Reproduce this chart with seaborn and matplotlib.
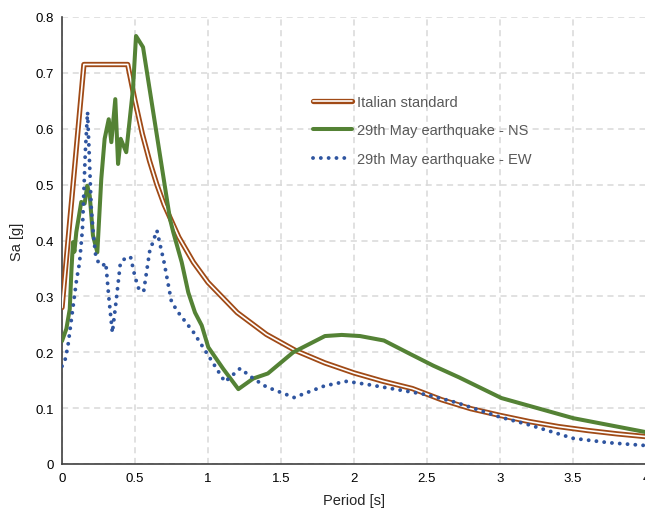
import matplotlib
matplotlib.use("Agg")
import matplotlib.pyplot as plt
import seaborn as sns
import pandas as pd
from matplotlib.lines import Line2D
from matplotlib.ticker import FuncFormatter, MultipleLocator

# ---- data ----
it_T = [0, 0.15, 0.45, 0.5, 0.55, 0.6, 0.65, 0.7, 0.8, 0.9, 1.0, 1.2, 1.4, 1.6,
        1.8, 2.0, 2.2, 2.4, 2.6, 2.8, 3.0, 3.2, 3.4, 3.6, 3.8, 4.0]
it_Sa = [0.28, 0.715, 0.715, 0.65, 0.591, 0.542, 0.5, 0.464, 0.406, 0.361,
         0.325, 0.271, 0.232, 0.203, 0.181, 0.163, 0.148, 0.135, 0.115, 0.099,
         0.087, 0.076, 0.067, 0.06, 0.054, 0.049]

ns_T = [0, 0.03, 0.053, 0.064, 0.075, 0.085, 0.098, 0.132, 0.155, 0.173, 0.19,
        0.212, 0.242, 0.269, 0.292, 0.32, 0.338, 0.365, 0.384, 0.402, 0.44,
        0.486, 0.507, 0.555, 0.74, 0.762, 0.82, 0.865, 0.911, 0.957, 1.002,
        1.105, 1.208, 1.31, 1.41, 1.584, 1.801, 1.916, 2.041, 2.205, 2.384,
        2.543, 2.72, 3.01, 3.502, 4.0]
ns_Sa = [0.22, 0.242, 0.277, 0.343, 0.397, 0.38, 0.415, 0.469, 0.466, 0.498,
         0.48, 0.409, 0.379, 0.51, 0.582, 0.617, 0.576, 0.653, 0.537, 0.582,
         0.558, 0.671, 0.766, 0.746, 0.438, 0.415, 0.361, 0.307, 0.271, 0.248,
         0.209, 0.17, 0.134, 0.153, 0.162, 0.2, 0.229, 0.231, 0.229, 0.221,
         0.197, 0.176, 0.155, 0.118, 0.082, 0.057]

ew_T = [0, 0.02, 0.04, 0.06, 0.08, 0.1, 0.12, 0.14, 0.16, 0.175, 0.19, 0.2,
        0.215, 0.23, 0.25, 0.28, 0.3, 0.32, 0.345, 0.37, 0.4, 0.44, 0.47, 0.5,
        0.53, 0.56, 0.6, 0.65, 0.7, 0.75, 0.8, 0.9, 1.0, 1.116, 1.22, 1.31,
        1.4, 1.59, 1.8, 1.95, 2.1, 2.3, 2.5, 2.7, 3.0, 3.2, 3.5, 3.75, 4.0]
ew_Sa = [0.175, 0.185, 0.21, 0.25, 0.29, 0.33, 0.36, 0.42, 0.56, 0.63, 0.53,
         0.46, 0.41, 0.375, 0.36, 0.355, 0.36, 0.3, 0.235, 0.29, 0.36, 0.37,
         0.37, 0.335, 0.31, 0.31, 0.38, 0.418, 0.36, 0.29, 0.27, 0.236, 0.195,
         0.147, 0.171, 0.153, 0.138, 0.119, 0.14, 0.148, 0.142, 0.133, 0.124,
         0.11, 0.084, 0.07, 0.046, 0.038, 0.033]

labels = ["Italian standard", "29th May earthquake - NS", "29th May earthquake - EW"]

BROWN = "#A04A16"
GREEN = "#548235"
BLUE = "#2F55A0"

sns.set_theme(style="white")
plt.rcParams["font.family"] = ["Liberation Sans", "DejaVu Sans"]

fig = plt.figure(figsize=(6.45, 5.10), dpi=100)
ax = fig.add_axes([62 / 645, 1 - 465 / 510, 584 / 645, (465 - 18) / 510])

df_it = pd.DataFrame({"T": it_T, "Sa": it_Sa})
df_ns = pd.DataFrame({"T": ns_T, "Sa": ns_Sa})
df_ew = pd.DataFrame({"T": ew_T, "Sa": ew_Sa})

sns.lineplot(data=df_it, x="T", y="Sa", ax=ax, color=BROWN, lw=3.8,
             estimator=None, sort=False, zorder=3)
sns.lineplot(data=df_it, x="T", y="Sa", ax=ax, color="white", lw=1.2,
             estimator=None, sort=False, zorder=3.1)
sns.lineplot(data=df_ns, x="T", y="Sa", ax=ax, color=GREEN, lw=2.9,
             estimator=None, sort=False, zorder=4)
sns.lineplot(data=df_ew, x="T", y="Sa", ax=ax, color=BLUE, lw=2.8,
             estimator=None, sort=False, zorder=5,
             linestyle=(0, (0.01, 2.0)), dash_capstyle="round")

ax.set_xlim(0, 4)
ax.set_ylim(0, 0.8)
ax.xaxis.set_major_locator(MultipleLocator(0.5))
ax.yaxis.set_major_locator(MultipleLocator(0.1))
fmt = FuncFormatter(lambda v, p: f"{v:g}")
ax.xaxis.set_major_formatter(fmt)
ax.yaxis.set_major_formatter(fmt)
ax.grid(True, color="#D9D9D9", lw=1.1, linestyle=(0, (4, 3)))
ax.set_axisbelow(True)
for s in ["top", "right"]:
    ax.spines[s].set_visible(False)
for s in ["left", "bottom"]:
    ax.spines[s].set_color("#404040")
    ax.spines[s].set_linewidth(1.2)
ax.tick_params(axis="both", length=0, labelsize=9.5, colors="#000000", pad=6)
ax.set_xlabel("Period [s]", fontsize=10.5, color="#262626", labelpad=6)
ax.set_ylabel("Sa [g]", fontsize=10.5, color="#262626", labelpad=8)

h_it = (Line2D([], [], color=BROWN, lw=3.8), Line2D([], [], color="white", lw=1.2))
h_ns = Line2D([], [], color=GREEN, lw=2.9)
h_ew = Line2D([], [], color=BLUE, lw=2.8, linestyle=(0, (0.01, 2.0)),
              dash_capstyle="round")
leg = ax.legend([h_it, h_ns, h_ew], labels, loc="upper left",
                bbox_to_anchor=(313 / 645, 1 - 96 / 510),
                bbox_transform=fig.transFigure, frameon=False,
                fontsize=10.5, handlelength=2.65, handletextpad=0.35,
                labelspacing=0.99, borderpad=0, borderaxespad=0)
for t in leg.get_texts():
    t.set_color("#595959")

fig.savefig("out.png", dpi=100)
